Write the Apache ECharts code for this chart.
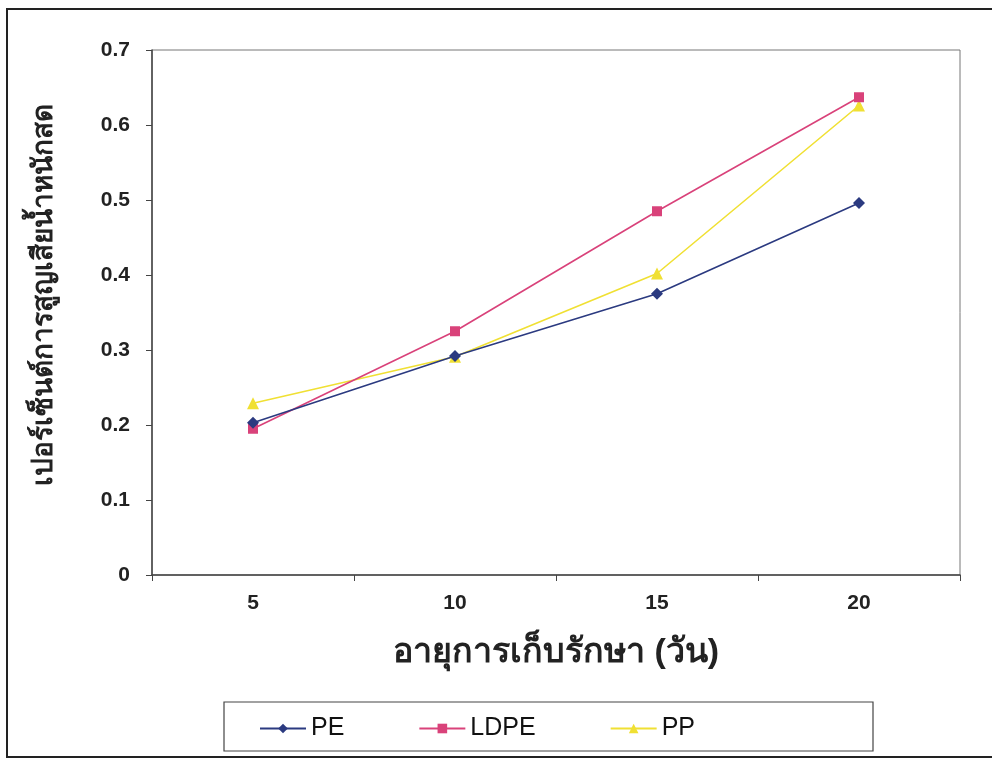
<!DOCTYPE html>
<html><head><meta charset="utf-8">
<script src="https://cdn.jsdelivr.net/npm/echarts@6/dist/echarts.min.js"></script>
<style>html,body{margin:0;padding:0;background:#fff}#c{width:992px;height:760px}</style>
</head><body><div id="c"></div>
<script>
const categories = ['5', '10', '15', '20'];
const peValues = [0.203, 0.292, 0.375, 0.496];
const ldpeValues = [0.195, 0.325, 0.485, 0.637];
const ppValues = [0.229, 0.291, 0.402, 0.626];
const seriesNames = ['PE', 'LDPE', 'PP'];
const xTitle = 'อายุการเก็บรักษา (วัน)';
const yTitle = 'เปอร์เซ็นต์การสูญเสียน้ำหนักสด';

const chart = echarts.init(document.getElementById('c'));
const font = 'Arial, "Liberation Sans", sans-serif';
const colors = ['#2b3a80', '#d9427a', '#f0e033'];
const symbols = ['diamond', 'rect', 'triangle'];
const vals = [peValues, ldpeValues, ppValues];
chart.setOption({
  animation: false,
  backgroundColor: '#fff',
  grid: { left: 152, right: 32, top: 50, bottom: 185, show: true, borderColor: '#777', borderWidth: 1 },
  xAxis: {
    type: 'category', data: categories, boundaryGap: true,
    name: xTitle, nameLocation: 'middle', nameGap: 61,
    nameTextStyle: { fontFamily: font, fontSize: 34, fontWeight: 'bold', color: '#222' },
    axisLine: { lineStyle: { color: '#444', width: 1.5 } },
    axisTick: { show: true, alignWithLabel: false, length: 6, lineStyle: { color: '#444' } },
    axisLabel: { margin: 18, fontFamily: font, fontSize: 21, fontWeight: 'bold', color: '#222' },
    splitLine: { show: false }
  },
  yAxis: {
    type: 'value', min: 0, max: 0.7, interval: 0.1,
    axisLine: { show: true, lineStyle: { color: '#444', width: 1.5 } },
    axisTick: { show: true, length: 6, lineStyle: { color: '#444' } },
    axisLabel: { margin: 22, fontFamily: font, fontSize: 21, fontWeight: 'bold', color: '#222',
      formatter: v => (Math.round(v * 10) / 10).toString() },
    splitLine: { show: false }
  },
  legend: {
    left: 254, top: 711, itemWidth: 46, itemHeight: 12, itemGap: 74,
    textStyle: { fontFamily: font, fontSize: 25, color: '#111' },
    data: seriesNames
  },
  graphic: [
    { type: 'rect', shape: { x: 7, y: 9, width: 1000, height: 748 }, style: { fill: null, stroke: '#222', lineWidth: 2 }, silent: true },
    { type: 'rect', shape: { x: 224, y: 702, width: 649, height: 49 }, style: { fill: null, stroke: '#444', lineWidth: 1.2 }, silent: true },
    { type: 'text', x: 44, y: 295, rotation: Math.PI / 2, silent: true,
      style: { text: yTitle, fontFamily: font, fontSize: 28, fontWeight: 'bold', fill: '#222', align: 'center', verticalAlign: 'middle' } }
  ],
  series: seriesNames.map((n, i) => ({
    name: n, type: 'line', data: vals[i], symbol: symbols[i],
    symbolSize: symbols[i] === 'rect' ? 10 : 12,
    lineStyle: { color: colors[i], width: 1.6 },
    itemStyle: { color: colors[i] },
    z: 3 - i
  }))
});
</script></body></html>
